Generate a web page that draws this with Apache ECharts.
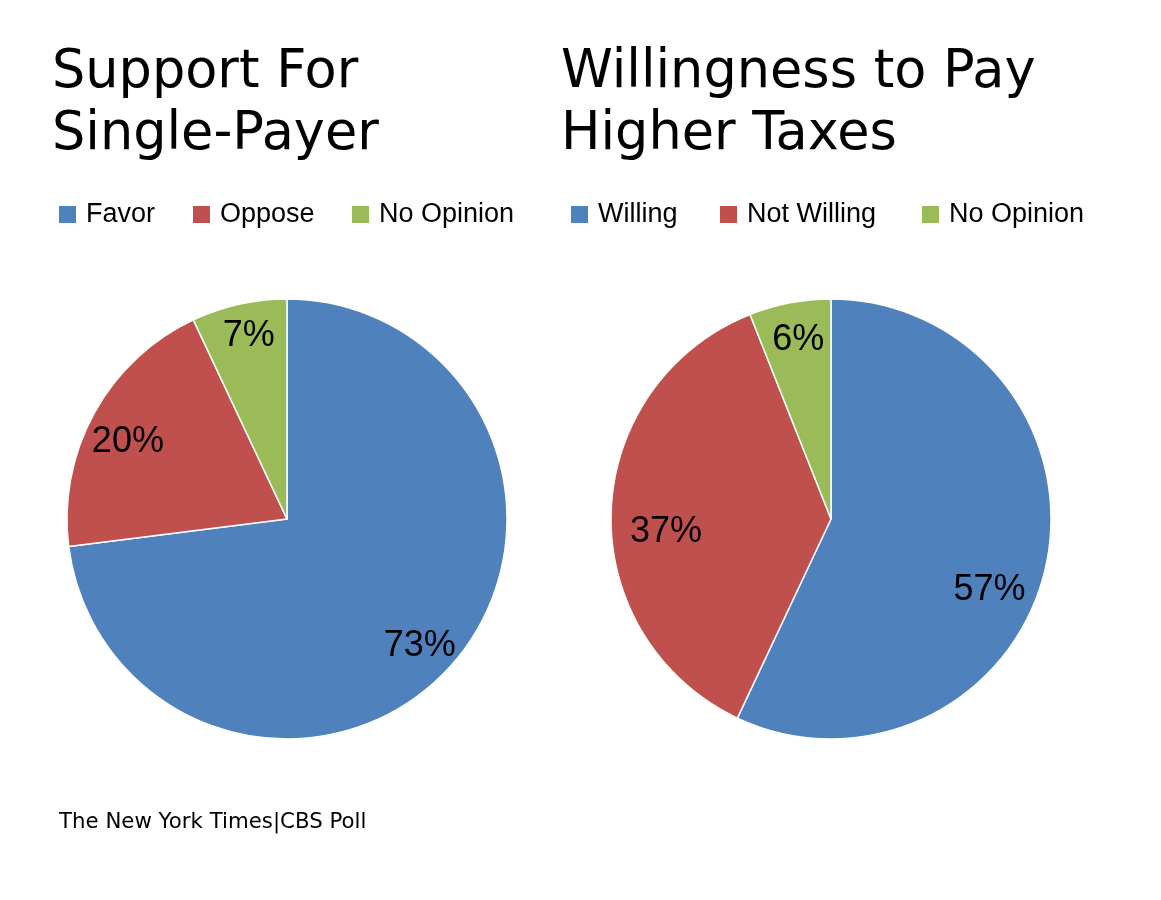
<!DOCTYPE html>
<html>
<head>
<meta charset="utf-8">
<script src="https://cdn.jsdelivr.net/npm/echarts@6/dist/echarts.min.js"></script>
<style>
html,body{margin:0;padding:0;background:#fff;}
#chart{width:1161px;height:900px;}
</style>
</head>
<body>
<div id="chart"></div>
<script>
// ---- data ----
var titleLeft = 'Support For\nSingle-Payer';
var titleRight = 'Willingness to Pay\nHigher Taxes';
var catsLeft = ['Favor', 'Oppose', 'No Opinion'];
var valsLeft = [73, 20, 7];
var catsRight = ['Willing', 'Not Willing', 'No Opinion'];
var valsRight = [57, 37, 6];
var sourceText = 'The New York Times|CBS Poll';

// ---- styles / layout ----
var colors = ['#4F81BD', '#C0504D', '#9BBB59'];
var R = 220;
var centerL = [287, 519];
var centerR = [831, 519];
// small label nudges mimicking the original "best fit" label placement
var nudgeLeft = [[-6, 5], [3, 12], [2, -2]];
var nudgeRight = [[-22, 31], [20, 19], [2, 3]];

function build(cats, vals) {
  return cats.map(function (n, i) {
    return { name: n, value: vals[i], itemStyle: { color: colors[i] } };
  });
}

function mainPie(cats, vals, center) {
  return {
    type: 'pie',
    center: center,
    radius: [0, R],
    startAngle: 90,
    clockwise: true,
    avoidLabelOverlap: false,
    animation: false,
    silent: true,
    itemStyle: { borderColor: '#ffffff', borderWidth: 1.5 },
    label: { show: false },
    labelLine: { show: false },
    emphasis: { disabled: true },
    data: build(cats, vals)
  };
}

function labelPie(cats, vals, center, nudge) {
  return {
    type: 'pie',
    center: center,
    radius: [144, R],
    startAngle: 90,
    clockwise: true,
    avoidLabelOverlap: false,
    animation: false,
    silent: true,
    itemStyle: { color: 'rgba(0,0,0,0)', borderWidth: 0 },
    label: {
      show: true,
      position: 'inside',
      formatter: '{c}%',
      color: '#000',
      fontFamily: 'Liberation Sans',
      fontSize: 36
    },
    labelLine: { show: false },
    emphasis: { disabled: true },
    data: cats.map(function (n, i) {
      return { name: n, value: vals[i], label: { offset: nudge[i] } };
    })
  };
}

var legendPos = [
  { name: catsLeft[0], left: 59 },
  { name: catsLeft[1], left: 193 },
  { name: catsLeft[2], left: 352 },
  { name: catsRight[0], left: 571 },
  { name: catsRight[1], left: 720 },
  { name: catsRight[2], left: 922 }
];

var legends = legendPos.map(function (p) {
  return {
    data: [p.name],
    left: p.left,
    top: 201,
    orient: 'horizontal',
    icon: 'rect',
    itemWidth: 17,
    itemHeight: 17,
    padding: 0,
    selectedMode: false,
    itemStyle: { borderWidth: 0 },
    textStyle: {
      fontFamily: 'Liberation Sans',
      fontSize: 27,
      color: '#000',
      padding: [0, 0, 0, 5]
    }
  };
});

var titleStyle = {
  fontFamily: 'DejaVu Sans',
  fontSize: 52.5,
  fontWeight: 'normal',
  color: '#000',
  lineHeight: 62
};

var option = {
  backgroundColor: '#ffffff',
  animation: false,
  title: [
    { text: titleLeft, left: 52, top: 42, padding: 0, textStyle: titleStyle },
    { text: titleRight, left: 561, top: 42, padding: 0, textStyle: titleStyle },
    {
      text: sourceText, left: 59, top: 812, padding: 0,
      textStyle: { fontFamily: 'DejaVu Sans', fontSize: 21.3, fontWeight: 'normal', color: '#000' }
    }
  ],
  legend: legends,
  series: [
    mainPie(catsLeft, valsLeft, centerL),
    mainPie(catsRight, valsRight, centerR),
    labelPie(catsLeft, valsLeft, centerL, nudgeLeft),
    labelPie(catsRight, valsRight, centerR, nudgeRight)
  ]
};

var chart = echarts.init(document.getElementById('chart'), null, { renderer: 'canvas' });
chart.setOption(option);
</script>
</body>
</html>
